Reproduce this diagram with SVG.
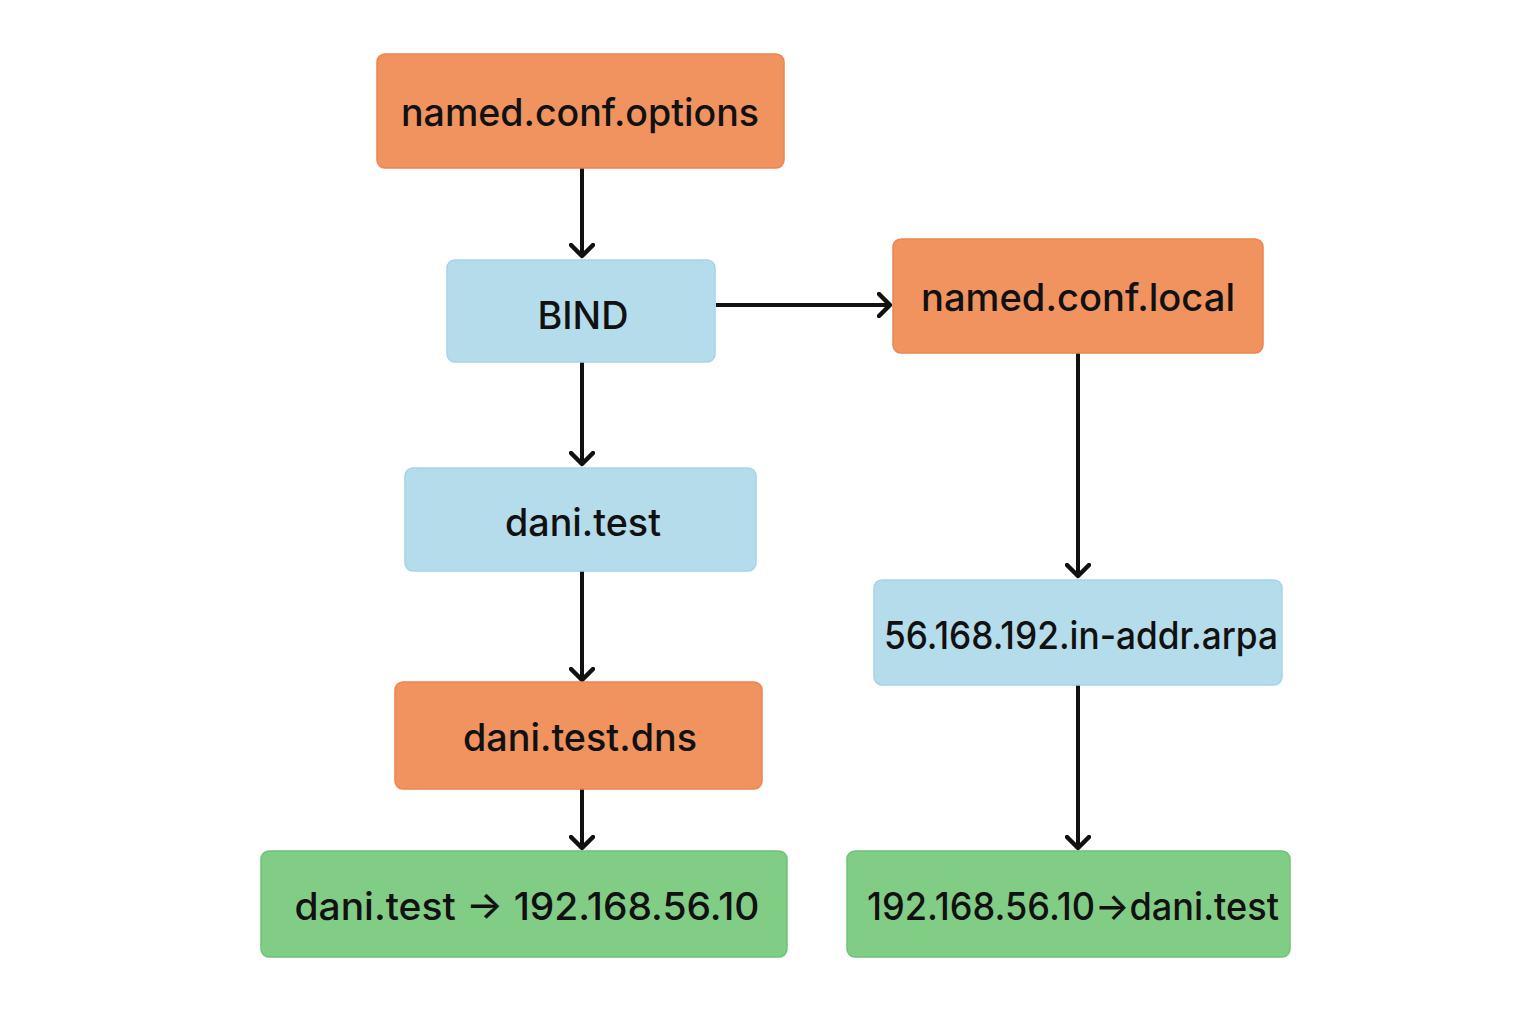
<svg xmlns="http://www.w3.org/2000/svg" width="1536" height="1024" viewBox="0 0 1536 1024">
<defs>
<style>
.orange{fill:#F0935E;stroke:#EC8450;stroke-width:1.5}
.blue{fill:#B5DCEA;stroke:#A6D3E6;stroke-width:1.5}
.green{fill:#82CD86;stroke:#6FC276;stroke-width:1.5}
.lbl{font-family:Inter,"Liberation Sans",sans-serif;font-size:38px;font-weight:500;fill:#111;text-anchor:middle}
.edge{stroke:#111;stroke-width:4;fill:none}
</style>
<marker id="arr" viewBox="0 0 16 26" markerWidth="16" markerHeight="26" refX="13" refY="13" markerUnits="userSpaceOnUse" orient="auto">
<path d="M2,2 L13,13 L2,24" fill="none" stroke="#111" stroke-width="4.5" stroke-linecap="round" stroke-linejoin="round"/>
</marker>
</defs>
<rect width="1536" height="1024" fill="#fff"/>
<g id="connectors">
<line class="edge" x1="582" y1="168" x2="582" y2="256" marker-end="url(#arr)"/>
<line class="edge" x1="716" y1="305" x2="890" y2="305" marker-end="url(#arr)"/>
<line class="edge" x1="582" y1="362" x2="582" y2="464" marker-end="url(#arr)"/>
<line class="edge" x1="582" y1="571" x2="582" y2="680" marker-end="url(#arr)"/>
<line class="edge" x1="582" y1="789" x2="582" y2="848" marker-end="url(#arr)"/>
<line class="edge" x1="1078" y1="353" x2="1078" y2="576" marker-end="url(#arr)"/>
<line class="edge" x1="1078" y1="685" x2="1078" y2="848" marker-end="url(#arr)"/>
</g>
<g id="named-conf-options">
<rect class="orange" x="377" y="54" width="407" height="114" rx="8"/>
<text class="lbl" x="580" y="126" textLength="358" lengthAdjust="spacingAndGlyphs">named.conf.options</text>
</g>
<g id="bind">
<rect class="blue" x="447" y="260" width="268" height="102" rx="8"/>
<text class="lbl" x="583" y="329" textLength="91" lengthAdjust="spacingAndGlyphs">BIND</text>
</g>
<g id="named-conf-local">
<rect class="orange" x="893" y="239" width="370" height="114" rx="8"/>
<text class="lbl" x="1078" y="311" textLength="314" lengthAdjust="spacingAndGlyphs">named.conf.local</text>
</g>
<g id="dani-test">
<rect class="blue" x="405" y="468" width="351" height="103" rx="8"/>
<text class="lbl" x="583" y="536" textLength="156" lengthAdjust="spacingAndGlyphs">dani.test</text>
</g>
<g id="reverse-zone">
<rect class="blue" x="874" y="580" width="408" height="105" rx="8"/>
<text class="lbl" x="1081" y="649" textLength="394" lengthAdjust="spacingAndGlyphs">56.168.192.in-addr.arpa</text>
</g>
<g id="dani-test-dns">
<rect class="orange" x="395" y="682" width="367" height="107" rx="8"/>
<text class="lbl" x="580" y="751" textLength="234" lengthAdjust="spacingAndGlyphs">dani.test.dns</text>
</g>
<g id="forward-record">
<rect class="green" x="261" y="851" width="526" height="106" rx="8"/>
<text class="lbl" x="527" y="920" textLength="465" lengthAdjust="spacingAndGlyphs">dani.test → 192.168.56.10</text>
</g>
<g id="reverse-record">
<rect class="green" x="847" y="851" width="443" height="106" rx="8"/>
<text class="lbl" x="1073" y="920" textLength="412" lengthAdjust="spacingAndGlyphs">192.168.56.10→dani.test</text>
</g>
</svg>
